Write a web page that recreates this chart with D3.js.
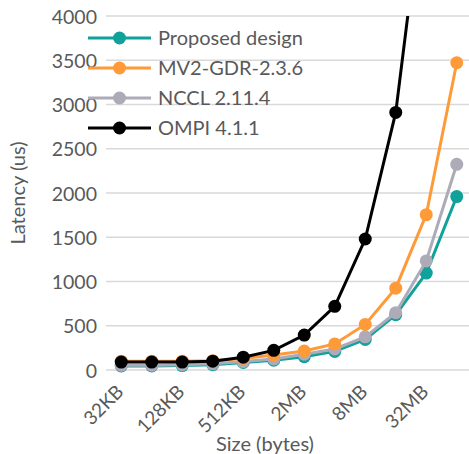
<!DOCTYPE html>
<html>
<head>
<meta charset="utf-8">
<script src="https://cdn.jsdelivr.net/npm/d3@7"></script>
<style>
  body { margin: 0; background: #fff; }
  text { font-family: Lato, "Open Sans", sans-serif; }
</style>
</head>
<body>
<div id="chart"></div>
<script>
// message sizes
const sizes = ["32KB", "64KB", "128KB", "256KB", "512KB", "1MB", "2MB", "4MB", "8MB", "16MB", "32MB", "64MB"];
const tickLabels = ["32KB", "128KB", "512KB", "2MB", "8MB", "32MB"];
const yTicks = [0, 500, 1000, 1500, 2000, 2500, 3000, 3500, 4000];

// latency (us)
const proposed = [45, 45, 50, 60, 85, 110, 150, 210, 345, 625, 1095, 1960];
const mv2gdr   = [100, 100, 100, 105, 130, 170, 215, 295, 515, 925, 1755, 3472];
const nccl     = [55, 55, 60, 70, 95, 125, 178, 238, 375, 648, 1232, 2324];
const ompi     = [90, 90, 90, 100, 145, 222, 395, 720, 1480, 2910, 5680, 11300];

const seriesNames = ["Proposed design", "MV2-GDR-2.3.6", "NCCL 2.11.4", "OMPI 4.1.1"];
const seriesColors = ["#10a19b", "#fe9a38", "#aeabb9", "#000000"];
const seriesValues = [proposed, mv2gdr, nccl, ompi];

const width = 469, height = 454;
const plot = { left: 106, right: 472, top: 16, bottom: 370 };

const svg = d3.select("#chart")
    .append("svg")
    .attr("width", width)
    .attr("height", height);

const x = d3.scalePoint()
    .domain(sizes)
    .range([plot.left, plot.right])
    .padding(0.5);

const y = d3.scaleLinear()
    .domain([0, 4000])
    .range([plot.bottom, plot.top]);

// gridlines
svg.append("g")
    .selectAll("line")
    .data(yTicks)
    .enter()
    .append("line")
    .attr("x1", plot.left)
    .attr("x2", plot.right)
    .attr("y1", d => y(d))
    .attr("y2", d => y(d))
    .attr("stroke", "#d9d9d9")
    .attr("stroke-width", 1.5);

// y axis labels
const yAxis = svg.append("g")
    .attr("transform", `translate(${plot.left - 9},0)`)
    .call(d3.axisLeft(y).tickValues(yTicks).tickFormat(d3.format("d")).tickSize(0).tickPadding(0));
yAxis.select(".domain").remove();
yAxis.selectAll("text")
    .attr("font-size", 19.5)
    .attr("fill", "#595959")
    .attr("dy", "0.36em")
    .style("font-family", "Lato, sans-serif");

// x axis labels
const xAxis = svg.append("g")
    .attr("transform", `translate(0,${plot.bottom})`)
    .call(d3.axisBottom(x).tickValues(tickLabels).tickSize(0).tickPadding(0));
xAxis.select(".domain").remove();
xAxis.selectAll("text")
    .attr("font-size", 19)
    .attr("fill", "#595959")
    .attr("text-anchor", "end")
    .attr("dy", null)
    .attr("y", 0)
    .attr("transform", "translate(3,23) rotate(-45)")
    .style("font-family", "Lato, sans-serif");

// axis titles
svg.append("text")
    .attr("x", 265)
    .attr("y", 451)
    .attr("text-anchor", "middle")
    .attr("font-size", 20)
    .attr("fill", "#595959")
    .text("Size (bytes)");

svg.append("text")
    .attr("transform", `translate(25,193) rotate(-90)`)
    .attr("text-anchor", "middle")
    .attr("font-size", 20)
    .attr("fill", "#595959")
    .text("Latency (us)");

// clip to plot area
svg.append("clipPath")
    .attr("id", "plotClip")
    .append("rect")
    .attr("x", plot.left - 10)
    .attr("y", plot.top)
    .attr("width", plot.right - plot.left + 20)
    .attr("height", plot.bottom - plot.top + 10);

const line = d3.line()
    .x((d, i) => x(sizes[i]))
    .y(d => y(d));

const seriesG = svg.append("g").attr("clip-path", "url(#plotClip)");

// draw from back to front: OMPI on top like the original
const order = [0, 2, 1, 3];
order.forEach(k => {
    const g = seriesG.append("g");
    g.append("path")
        .datum(seriesValues[k])
        .attr("d", line)
        .attr("fill", "none")
        .attr("stroke", seriesColors[k])
        .attr("stroke-width", 3);
    g.selectAll("circle")
        .data(seriesValues[k].filter(v => v <= 4000))
        .enter()
        .append("circle")
        .attr("cx", (d, i) => x(sizes[i]))
        .attr("cy", d => y(d))
        .attr("r", 6.5)
        .attr("fill", seriesColors[k]);
});

// legend
const legend = svg.append("g")
    .attr("transform", "translate(88,38)");

const rows = legend.selectAll("g")
    .data(seriesNames)
    .enter()
    .append("g")
    .attr("transform", (d, i) => `translate(0,${i * 30})`);

rows.append("line")
    .attr("x1", 0)
    .attr("x2", 63)
    .attr("stroke", (d, i) => seriesColors[i])
    .attr("stroke-width", 3);

rows.append("circle")
    .attr("cx", 31.5)
    .attr("r", 6.5)
    .attr("fill", (d, i) => seriesColors[i]);

rows.append("text")
    .attr("x", 70)
    .attr("dy", "0.36em")
    .attr("font-size", 20)
    .attr("fill", "#595959")
    .text(d => d);
</script>
</body>
</html>
